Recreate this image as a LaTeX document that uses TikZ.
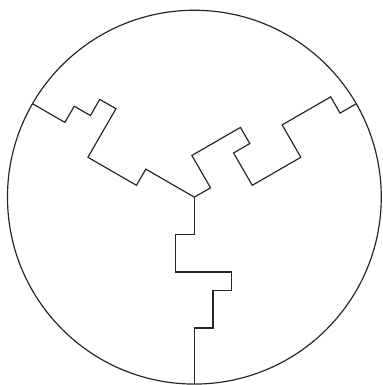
\documentclass[tikz,border=0pt]{standalone}
\usepackage{tikz}
\tikzset{cut/.style={draw=black!85,line width=0.45pt,line join=miter}}
\begin{document}
\begin{tikzpicture}[x=2.5mm,y=2.5mm]
\useasboundingbox (-10.4,-10.05) rectangle (10.08,10.55);
\coordinate (hub) at (0,0);
\draw[cut] (hub) circle (10);

% bottom cut
\begin{scope}[rotate=270]
\draw[cut] (hub) -- (2,0) -- (2,-1) -- (4,-1) -- (4,2) -- (5,2) -- (5,1) -- (7,1) -- (7,0) -- (10,0);
\end{scope}

% upper left cut
\begin{scope}[rotate=150]
\draw[cut] (hub) -- (3,0) -- (3,1) -- (6,1) -- (6,-2) -- (7,-2) -- (7,-1) -- (8,-1) -- (8,0) -- (10,0);
\end{scope}

% upper right cut
\begin{scope}[rotate=30]
\draw[cut] (hub) -- (1,0) -- (1,2) -- (4,2) -- (4,1) -- (3,1) -- (3,-1) -- (6,-1) -- (6,1) -- (9,1) -- (9,0) -- (10,0);
\end{scope}
\end{tikzpicture}
\end{document}
